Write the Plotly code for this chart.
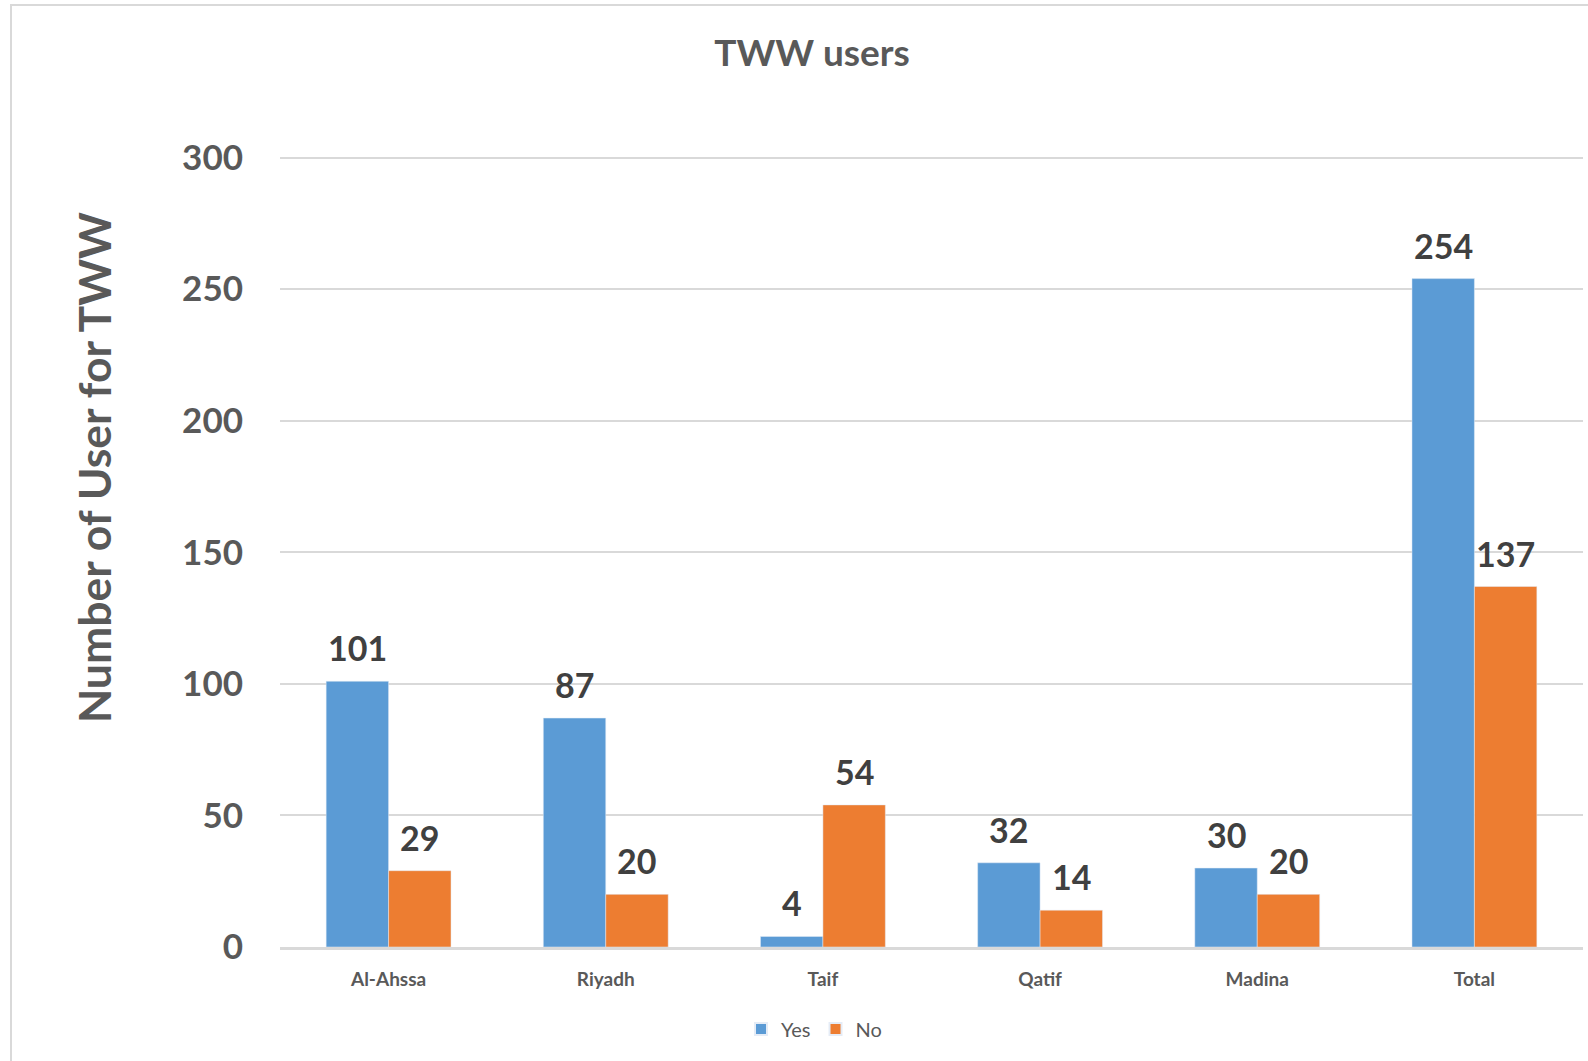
import plotly.graph_objects as go

categories = ["Al-Ahssa", "Riyadh", "Taif", "Qatif", "Madina", "Total"]
yes_values = [101, 87, 4, 32, 30, 254]
no_values = [29, 20, 54, 14, 20, 137]
y_ticks = [0, 50, 100, 150, 200, 250, 300]

FONT = "Lato"
BLUE = "#5B9BD5"
ORANGE = "#ED7D31"
GRID = "#D9D9D9"

W, H = 1588, 1061
L, R, T, B = 280, 5, 156, 114
pw = W - L - R
ph = H - T - B
BARGAP = 0.425
bar_px = pw / len(categories) * (1 - BARGAP) / 2


def px_x(p):
    return (p - L) / pw


def px_y(p):
    return (H - B - p) / ph


fig = go.Figure()
fig.add_trace(go.Bar(name="Yes", x=categories, y=yes_values, marker_color=BLUE))
fig.add_trace(go.Bar(name="No", x=categories, y=no_values, marker_color=ORANGE))

label_font = dict(family=FONT, size=34, color="#404040", weight="bold")
for series, shift in ((yes_values, -bar_px / 2), (no_values, bar_px / 2)):
    for cat, val in zip(categories, series):
        fig.add_annotation(
            x=cat, y=val, xref="x", yref="y", text=str(val),
            xshift=shift, yshift=11, yanchor="bottom", xanchor="center",
            showarrow=False, font=label_font,
        )

fig.update_layout(
    width=W, height=H,
    margin=dict(l=L, r=R, t=T, b=B),
    paper_bgcolor="white", plot_bgcolor="white",
    barmode="group", bargap=BARGAP, bargroupgap=0,
    font=dict(family=FONT, color="#595959"),
    title=dict(
        text="<b>TWW users</b>", x=812 / W, xanchor="center",
        y=1 - 53 / H, yanchor="middle",
        font=dict(family=FONT, size=37, color="#595959"),
    ),
    legend=dict(
        orientation="h", x=px_x(814), xanchor="center",
        y=px_y(1029), yanchor="middle",
        font=dict(family=FONT, size=20, color="#595959"),
        itemsizing="constant", itemwidth=30, traceorder="normal",
    ),
    showlegend=True,
)

fig.update_yaxes(
    range=[0, 300.6], tickvals=y_ticks, ticktext=[str(v) for v in y_ticks],
    showgrid=True, gridcolor=GRID, gridwidth=2,
    zeroline=False, showline=False,
    tickfont=dict(family=FONT, size=35, color="#595959", weight="bold"),
    ticks="", ticklabelstandoff=36,
)
fig.update_xaxes(
    showgrid=False, showline=True, linecolor=GRID, linewidth=3,
    tickfont=dict(family=FONT, size=19, color="#595959", weight="bold"),
    ticks="", ticklabelstandoff=13,
)

fig.add_annotation(
    text="<b>Number of User for TWW</b>", textangle=-90,
    xref="paper", yref="paper", x=px_x(93), y=px_y(468),
    xanchor="center", yanchor="middle", showarrow=False,
    font=dict(family=FONT, size=44.5, color="#595959"),
)

fig.add_shape(
    type="rect", xref="paper", yref="paper",
    x0=px_x(11), x1=px_x(1610), y0=px_y(1080), y1=px_y(5),
    line=dict(color=GRID, width=2), fillcolor="rgba(0,0,0,0)", layer="below",
)

fig.write_html("out.html")
